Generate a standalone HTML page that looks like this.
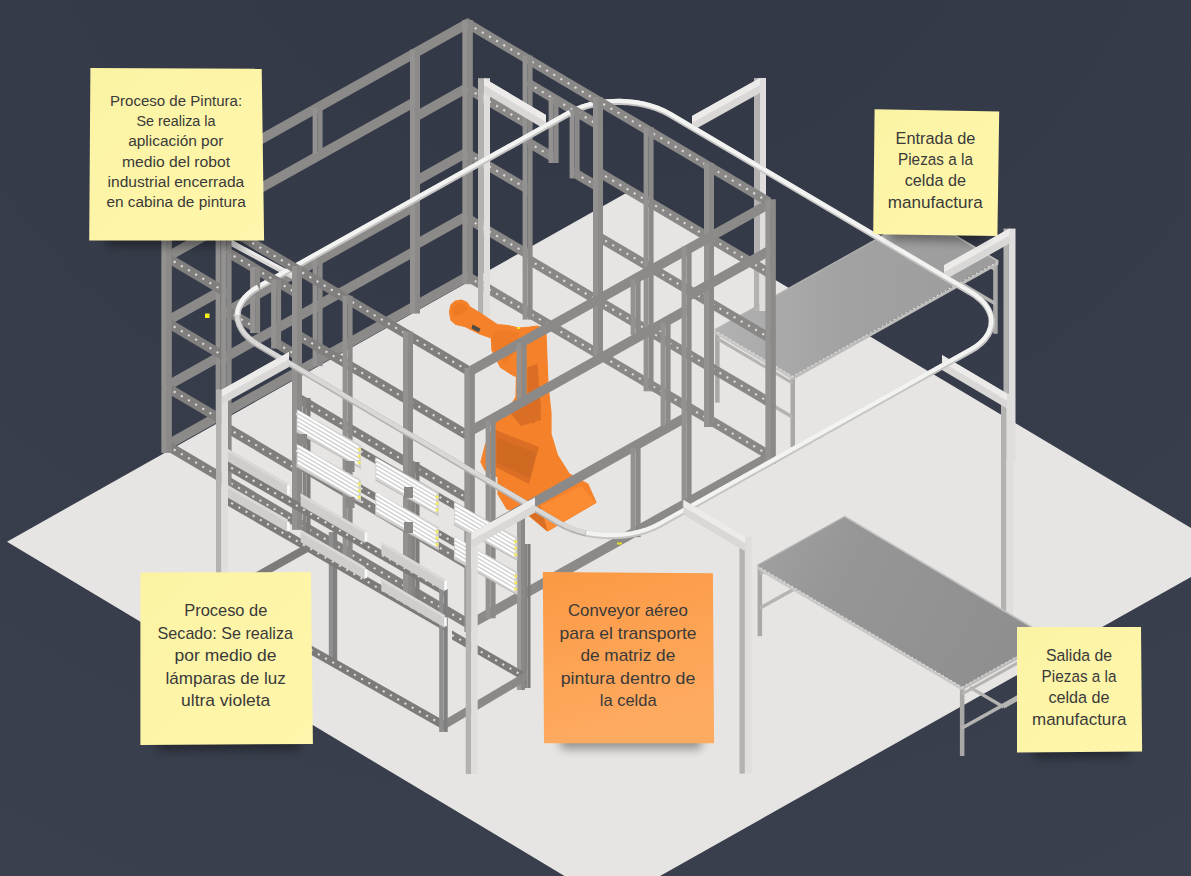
<!DOCTYPE html>
<html><head><meta charset="utf-8"><title>Celda de manufactura</title>
<style>
html,body{margin:0;padding:0;background:#363b49;}
body{width:1191px;height:876px;overflow:hidden;font-family:"Liberation Sans",sans-serif;}
svg{display:block}
</style></head><body>
<svg width="1191" height="876" viewBox="0 0 1191 876">
<defs>
<radialGradient id="bg" gradientUnits="userSpaceOnUse" cx="600" cy="-250" r="1250">
<stop offset="0" stop-color="#323745"/><stop offset="0.3" stop-color="#343947"/><stop offset="0.7" stop-color="#383d4b"/><stop offset="1" stop-color="#3a404e"/>
</radialGradient>
<linearGradient id="gy" x1="0" y1="0" x2="1" y2="1"><stop offset="0" stop-color="#fbf3a4"/><stop offset="1" stop-color="#fff6ab"/></linearGradient>
<linearGradient id="go" x1="0" y1="0" x2="0.3" y2="1"><stop offset="0" stop-color="#fb9943"/><stop offset="1" stop-color="#feab62"/></linearGradient>
<linearGradient id="gt" x1="0" y1="0" x2="1" y2="0"><stop offset="0" stop-color="#b3b2b2"/><stop offset="0.45" stop-color="#a2a2a2"/><stop offset="1" stop-color="#9c9c9c"/></linearGradient>
<linearGradient id="gt2" x1="0" y1="0" x2="1" y2="0.3"><stop offset="0" stop-color="#a2a2a2"/><stop offset="0.35" stop-color="#969696"/><stop offset="1" stop-color="#8f8f8f"/></linearGradient>
<filter id="blur" x="-20%" y="-50%" width="140%" height="200%"><feGaussianBlur stdDeviation="5"/></filter>
</defs>
<rect width="1191" height="876" fill="url(#bg)"/>
<polygon points="7,541.7 628,192 1191,528 1260,552 1191,577 660,876 564.5,876" fill="#e6e5e3"/>
<rect x="917.8" y="217.1" width="4.5" height="72" fill="#a9a8a7"/>
<rect x="993.2" y="261.8" width="4.5" height="72" fill="#a9a8a7"/>
<rect x="790.5" y="375.3" width="4.5" height="72" fill="#a9a8a7"/>
<rect x="715.1" y="330.6" width="4.5" height="72" fill="#a9a8a7"/>
<line x1="920" y1="259.1" x2="995.4" y2="303.8" stroke="#b5b4b3" stroke-width="3.5"/>
<line x1="920" y1="225.1" x2="995.4" y2="269.8" stroke="#b5b4b3" stroke-width="3"/>
<line x1="717.3" y1="372.6" x2="792.7" y2="417.3" stroke="#b5b4b3" stroke-width="3.5"/>
<line x1="717.3" y1="338.6" x2="792.7" y2="383.3" stroke="#b5b4b3" stroke-width="3"/>
<polygon points="714.3,330 792.7,376.4 792.7,379.9 714.3,333.5" fill="#c9c8c7"/>
<polygon points="998.4,261.3 792.7,376.4 792.7,379.9 998.4,264.8" fill="#bdbcbb"/>
<polygon points="920,214.8 998.4,261.3 792.7,376.4 714.3,330" fill="url(#gt)"/>
<line x1="920" y1="214.8" x2="998.4" y2="261.3" stroke="#c2c1c0" stroke-width="1.6"/>
<line x1="920" y1="214.8" x2="714.3" y2="330" stroke="#b4b3b2" stroke-width="1.2"/>
<polyline points="714.3,330 792.7,376.4 998.4,261.3" fill="none" stroke="#e4e3e2" stroke-width="1.3" stroke-dasharray="1.3 3.2"/>
<rect x="754" y="78" width="5.4" height="233" fill="#b3b2b1"/>
<rect x="759.4" y="78" width="6.6" height="233" fill="#dfdedd"/>
<polygon points="760,78 692,116.1 692,131.1 760,93" fill="#d9d8d7"/>
<polygon points="760,78 692,116.1 692,123.1 760,85" fill="#ecebea"/>
<rect x="1003.5" y="228.6" width="5.4" height="233" fill="#b3b2b1"/>
<rect x="1008.9" y="228.6" width="6.6" height="233" fill="#dfdedd"/>
<polygon points="1009.5,228.6 944,265.3 944,280.3 1009.5,243.6" fill="#d9d8d7"/>
<polygon points="1009.5,228.6 944,265.3 944,272.3 1009.5,235.6" fill="#ecebea"/>
<path d="M570 113 L575.9 110.1 L582.4 107.5 L589.3 105.4 L596.6 103.8 L604.3 102.6 L612.1 102 L620 101.9 L627.9 102.3 L635.7 103.1 L643.4 104.5 L650.7 106.4 L657.6 108.7 L664.1 111.5 L670 114.6 L971 292.8 L976.3 296.3 L980.9 300.1 L984.7 304.1 L987.7 308.4 L989.9 312.8 L991.3 317.4 L991.7 321.9 L991.3 326.5 L989.9 331" fill="none" stroke="#c6c5c4" stroke-width="6.1" stroke-linejoin="round" stroke-linecap="butt"/>
<path d="M569.7 112 L575.6 109.1 L582.1 106.5 L589 104.4 L596.3 102.8 L604 101.6 L611.8 101 L619.7 100.9 L627.6 101.3 L635.4 102.1 L643.1 103.5 L650.4 105.4 L657.3 107.7 L663.8 110.5 L669.7 113.6 L970.7 291.8 L976 295.3 L980.6 299.1 L984.4 303.1 L987.4 307.4 L989.6 311.8 L991 316.4 L991.4 320.9 L991 325.5 L989.6 330" fill="none" stroke="#f3f3f2" stroke-width="4.2" stroke-linejoin="round" stroke-linecap="butt"/>
<polygon points="467.6,18.1 166.6,186.7 166.6,197.7 467.6,29.1" fill="#8b8a89"/>
<polygon points="467.6,271.1 166.6,439.7 166.6,450.7 467.6,282.1" fill="#8b8a89"/>
<polygon points="467.6,82.1 415,111.6 415,122.6 467.6,93.1" fill="#8b8a89"/>
<polygon points="467.6,146.6 415,176.1 415,187.1 467.6,157.6" fill="#8b8a89"/>
<polygon points="467.6,210.1 415,239.6 415,250.6 467.6,221.1" fill="#8b8a89"/>
<polygon points="415,96.2 220.6,205 220.6,216 415,107.2" fill="#8b8a89"/>
<polygon points="415,200.6 220.6,309.4 220.6,320.4 415,211.6" fill="#8b8a89"/>
<polygon points="415,245.6 220.6,354.4 220.6,365.4 415,256.6" fill="#8b8a89"/>
<polygon points="220.6,221.4 166.6,251.7 166.6,262.7 220.6,232.4" fill="#8b8a89"/>
<polygon points="220.6,285.4 166.6,315.7 166.6,326.7 220.6,296.4" fill="#8b8a89"/>
<polygon points="220.6,350.4 166.6,380.7 166.6,391.7 220.6,361.4" fill="#8b8a89"/>
<rect x="312.6" y="108.1" width="5" height="46" fill="#939291"/>
<rect x="317.6" y="108.1" width="5" height="46" fill="#8b8a89"/>
<rect x="312.6" y="258.1" width="5" height="108" fill="#939291"/>
<rect x="317.6" y="258.1" width="5" height="108" fill="#8b8a89"/>
<rect x="462.6" y="20.1" width="5" height="264" fill="#939291"/>
<rect x="467.6" y="20.1" width="5" height="264" fill="#8b8a89"/>
<rect x="410" y="49.6" width="5" height="264" fill="#939291"/>
<rect x="415" y="49.6" width="5" height="264" fill="#8b8a89"/>
<rect x="215.6" y="158.4" width="5" height="264" fill="#939291"/>
<rect x="220.6" y="158.4" width="5" height="264" fill="#8b8a89"/>
<rect x="161.6" y="188.7" width="5" height="264" fill="#939291"/>
<rect x="166.6" y="188.7" width="5" height="264" fill="#8b8a89"/>
<polygon points="467.6,18.1 770.6,197.5 770.6,208.5 467.6,29.1" fill="#898887"/>
<line x1="467.6" y1="23.6" x2="770.6" y2="203" stroke="#dcdbda" stroke-width="2.1" stroke-dasharray="2.1 6.2" stroke-linecap="butt"/>
<polygon points="467.6,271.1 770.6,450.5 770.6,461.5 467.6,282.1" fill="#898887"/>
<line x1="467.6" y1="276.6" x2="770.6" y2="456" stroke="#dcdbda" stroke-width="2.1" stroke-dasharray="2.1 6.2" stroke-linecap="butt"/>
<polygon points="467.6,83.1 527.6,118.6 527.6,129.6 467.6,94.1" fill="#898887"/>
<line x1="467.6" y1="88.6" x2="527.6" y2="124.1" stroke="#dcdbda" stroke-width="2.1" stroke-dasharray="2.1 6.2" stroke-linecap="butt"/>
<polygon points="467.6,148.1 527.6,183.6 527.6,194.6 467.6,159.1" fill="#898887"/>
<line x1="467.6" y1="153.6" x2="527.6" y2="189.1" stroke="#dcdbda" stroke-width="2.1" stroke-dasharray="2.1 6.2" stroke-linecap="butt"/>
<polygon points="467.6,213.1 527.6,248.6 527.6,259.6 467.6,224.1" fill="#898887"/>
<line x1="467.6" y1="218.6" x2="527.6" y2="254.1" stroke="#dcdbda" stroke-width="2.1" stroke-dasharray="2.1 6.2" stroke-linecap="butt"/>
<polygon points="527.6,77.6 598,119.3 598,130.3 527.6,88.6" fill="#898887"/>
<line x1="527.6" y1="83.1" x2="598" y2="124.8" stroke="#dcdbda" stroke-width="2.1" stroke-dasharray="2.1 6.2" stroke-linecap="butt"/>
<polygon points="527.6,136.6 553.6,152 553.6,163 527.6,147.6" fill="#898887"/>
<line x1="527.6" y1="142.1" x2="553.6" y2="157.5" stroke="#dcdbda" stroke-width="2.1" stroke-dasharray="2.1 6.2" stroke-linecap="butt"/>
<polygon points="574.6,167.4 598,181.3 598,192.3 574.6,178.4" fill="#898887"/>
<line x1="574.6" y1="172.9" x2="598" y2="186.8" stroke="#dcdbda" stroke-width="2.1" stroke-dasharray="2.1 6.2" stroke-linecap="butt"/>
<rect x="548.6" y="97" width="5" height="66" fill="#939291"/>
<rect x="553.6" y="97" width="5" height="66" fill="#8b8a89"/>
<rect x="569.6" y="109.4" width="5" height="69" fill="#939291"/>
<rect x="574.6" y="109.4" width="5" height="69" fill="#8b8a89"/>
<polygon points="527.6,253.6 598,295.3 598,306.3 527.6,264.6" fill="#898887"/>
<line x1="527.6" y1="259.1" x2="598" y2="300.8" stroke="#dcdbda" stroke-width="2.1" stroke-dasharray="2.1 6.2" stroke-linecap="butt"/>
<polygon points="598,166.3 770.6,268.5 770.6,279.5 598,177.3" fill="#898887"/>
<line x1="598" y1="171.8" x2="770.6" y2="274" stroke="#dcdbda" stroke-width="2.1" stroke-dasharray="2.1 6.2" stroke-linecap="butt"/>
<polygon points="598,230.9 770.6,333.1 770.6,344.1 598,241.9" fill="#898887"/>
<line x1="598" y1="236.4" x2="770.6" y2="338.6" stroke="#dcdbda" stroke-width="2.1" stroke-dasharray="2.1 6.2" stroke-linecap="butt"/>
<polygon points="598,295.3 770.6,397.5 770.6,408.5 598,306.3" fill="#898887"/>
<line x1="598" y1="300.8" x2="770.6" y2="403" stroke="#dcdbda" stroke-width="2.1" stroke-dasharray="2.1 6.2" stroke-linecap="butt"/>
<rect x="462.6" y="20.1" width="5" height="264" fill="#939291"/>
<rect x="467.6" y="20.1" width="5" height="264" fill="#8b8a89"/>
<rect x="522.6" y="55.6" width="5" height="264" fill="#939291"/>
<rect x="527.6" y="55.6" width="5" height="264" fill="#8b8a89"/>
<rect x="593" y="97.3" width="5" height="264" fill="#939291"/>
<rect x="598" y="97.3" width="5" height="264" fill="#8b8a89"/>
<rect x="643.6" y="127.3" width="5" height="264" fill="#939291"/>
<rect x="648.6" y="127.3" width="5" height="264" fill="#8b8a89"/>
<rect x="704" y="163" width="5" height="264" fill="#939291"/>
<rect x="709" y="163" width="5" height="264" fill="#8b8a89"/>
<rect x="765.6" y="199.5" width="5" height="264" fill="#939291"/>
<rect x="770.6" y="199.5" width="5" height="264" fill="#8b8a89"/>
<rect x="478" y="78.2" width="5.4" height="238" fill="#b3b2b1"/>
<rect x="483.4" y="78.2" width="6.6" height="238" fill="#dfdedd"/>
<polygon points="484,78.2 546,114.9 546,129.9 484,93.2" fill="#d9d8d7"/>
<polygon points="484,78.2 546,114.9 546,121.9 484,85.2" fill="#ecebea"/>
<polygon points="449.5,312 451,305 455.5,301 461.5,300 467,302.5 470,307 483,315 497,324.5 508,325.5 519,328 530,327 537.5,326 543,329 546,334 547,360 548,385 551,413 551,434 557.5,455.4 569.3,474 587.8,484 596,502.4 547.5,531 527.3,514 507,509 498,494 498,477 485.3,470.5 481,462 485.3,445.3 495.5,422 505.6,414 516,397 516.5,376.5 514,375.7 500.5,367.3 492,350.5 491.3,338 480,334 465,326.5 456,324.5 451,320" fill="#f5822a" stroke="#f5822a" stroke-width="1.2" stroke-linejoin="round"/>
<polygon points="527.4,367.3 537.5,364 540.8,407.6 533,425 527.4,390.8" fill="#d96e24"/>
<polygon points="495.4,430 539,447 529,484 495.4,467" fill="#d96e24"/>
<polygon points="497,438 536,453 530,478 497,463" fill="#d06a22"/>
<polygon points="507,409 540,399 541,420 521,426" fill="#d96e24"/>
<polygon points="491.5,338 498,330 519,332 516,350 505,365 495,352" fill="#ee7c26"/>
<polygon points="540.5,506 581,486 596,502.4 547.5,531" fill="#fb8c33"/>
<polygon points="527.3,514 540.5,506 547.5,531" fill="#d96e24"/>
<polygon points="452,309 458,303 465,304 468,309 461,315 454,316" fill="#ee7a24"/>
<polygon points="472.5,324.5 480.4,328.6 479,332.4 471.5,328.5" fill="#4d4b48"/>
<rect x="517" y="327" width="3" height="2" fill="#f2e21d"/>
<polygon points="229,238.5 293,273 293,279.5 229,245" fill="#d9d8d7"/>
<polygon points="229,238.5 293,273 293,276 229,241.5" fill="#ecebea"/>
<path d="M258.2 287.6 L570 113" fill="none" stroke="#c6c5c4" stroke-width="6.1" stroke-linejoin="round" stroke-linecap="butt"/>
<path d="M257.9 286.6 L569.7 112" fill="none" stroke="#f3f3f2" stroke-width="4.2" stroke-linejoin="round" stroke-linecap="butt"/>
<polygon points="166.6,186.7 469.6,366 469.6,377 166.6,197.7" fill="#807f7e"/>
<line x1="166.6" y1="192.2" x2="469.6" y2="371.5" stroke="#dcdbda" stroke-width="2.1" stroke-dasharray="2.1 6.2" stroke-linecap="butt"/>
<polygon points="166.6,439.7 469.6,619 469.6,630 166.6,450.7" fill="#807f7e"/>
<line x1="166.6" y1="445.2" x2="469.6" y2="624.5" stroke="#dcdbda" stroke-width="2.1" stroke-dasharray="2.1 6.2" stroke-linecap="butt"/>
<polygon points="166.6,251.7 226.6,287.2 226.6,298.2 166.6,262.7" fill="#807f7e"/>
<line x1="166.6" y1="257.2" x2="226.6" y2="292.7" stroke="#dcdbda" stroke-width="2.1" stroke-dasharray="2.1 6.2" stroke-linecap="butt"/>
<polygon points="166.6,316.7 226.6,352.2 226.6,363.2 166.6,327.7" fill="#807f7e"/>
<line x1="166.6" y1="322.2" x2="226.6" y2="357.7" stroke="#dcdbda" stroke-width="2.1" stroke-dasharray="2.1 6.2" stroke-linecap="butt"/>
<polygon points="166.6,381.7 226.6,417.2 226.6,428.2 166.6,392.7" fill="#807f7e"/>
<line x1="166.6" y1="387.2" x2="226.6" y2="422.7" stroke="#dcdbda" stroke-width="2.1" stroke-dasharray="2.1 6.2" stroke-linecap="butt"/>
<polygon points="226.6,246.2 297,287.9 297,298.9 226.6,257.2" fill="#807f7e"/>
<line x1="226.6" y1="251.7" x2="297" y2="293.4" stroke="#dcdbda" stroke-width="2.1" stroke-dasharray="2.1 6.2" stroke-linecap="butt"/>
<polygon points="226.6,305.2 255.1,322.1 255.1,333.1 226.6,316.2" fill="#807f7e"/>
<line x1="226.6" y1="310.7" x2="255.1" y2="327.6" stroke="#dcdbda" stroke-width="2.1" stroke-dasharray="2.1 6.2" stroke-linecap="butt"/>
<polygon points="276.1,337.5 297,349.9 297,360.9 276.1,348.5" fill="#807f7e"/>
<line x1="276.1" y1="343" x2="297" y2="355.4" stroke="#dcdbda" stroke-width="2.1" stroke-dasharray="2.1 6.2" stroke-linecap="butt"/>
<rect x="250.1" y="267.1" width="5" height="66" fill="#939291"/>
<rect x="255.1" y="267.1" width="5" height="66" fill="#8b8a89"/>
<rect x="271.1" y="279.5" width="5" height="69" fill="#939291"/>
<rect x="276.1" y="279.5" width="5" height="69" fill="#8b8a89"/>
<polygon points="226.6,422.2 297,463.9 297,474.9 226.6,433.2" fill="#807f7e"/>
<line x1="226.6" y1="427.7" x2="297" y2="469.4" stroke="#dcdbda" stroke-width="2.1" stroke-dasharray="2.1 6.2" stroke-linecap="butt"/>
<polygon points="297,328.9 469.6,431 469.6,442 297,339.9" fill="#807f7e"/>
<line x1="297" y1="334.4" x2="469.6" y2="436.5" stroke="#dcdbda" stroke-width="2.1" stroke-dasharray="2.1 6.2" stroke-linecap="butt"/>
<polygon points="297,391.9 469.6,494 469.6,505 297,402.9" fill="#807f7e"/>
<line x1="297" y1="397.4" x2="469.6" y2="499.5" stroke="#dcdbda" stroke-width="2.1" stroke-dasharray="2.1 6.2" stroke-linecap="butt"/>
<polygon points="297,457.9 469.6,560 469.6,571 297,468.9" fill="#807f7e"/>
<line x1="297" y1="463.4" x2="469.6" y2="565.5" stroke="#dcdbda" stroke-width="2.1" stroke-dasharray="2.1 6.2" stroke-linecap="butt"/>
<rect x="161.6" y="188.7" width="5" height="264" fill="#939291"/>
<rect x="166.6" y="188.7" width="5" height="264" fill="#8b8a89"/>
<rect x="221.6" y="224.2" width="5" height="264" fill="#939291"/>
<rect x="226.6" y="224.2" width="5" height="264" fill="#8b8a89"/>
<rect x="292" y="265.9" width="5" height="264" fill="#939291"/>
<rect x="297" y="265.9" width="5" height="264" fill="#8b8a89"/>
<rect x="342.6" y="295.8" width="5" height="264" fill="#939291"/>
<rect x="347.6" y="295.8" width="5" height="264" fill="#8b8a89"/>
<rect x="403" y="331.6" width="5" height="264" fill="#939291"/>
<rect x="408" y="331.6" width="5" height="264" fill="#8b8a89"/>
<rect x="464.6" y="368" width="5" height="264" fill="#939291"/>
<rect x="469.6" y="368" width="5" height="264" fill="#8b8a89"/>
<polygon points="770.6,197.5 469.6,366 469.6,377 770.6,208.5" fill="#8b8a89"/>
<polygon points="770.6,450.5 469.6,619 469.6,630 770.6,461.5" fill="#8b8a89"/>
<polygon points="770.6,244.5 686.6,291.5 686.6,302.5 770.6,255.5" fill="#8b8a89"/>
<polygon points="686.6,304.5 469.6,426 469.6,437 686.6,315.5" fill="#8b8a89"/>
<polygon points="686.6,411.5 469.6,533 469.6,544 686.6,422.5" fill="#8b8a89"/>
<rect x="630.6" y="279.1" width="5" height="56" fill="#939291"/>
<rect x="635.6" y="279.1" width="5" height="56" fill="#8b8a89"/>
<rect x="630.6" y="448.1" width="5" height="89" fill="#939291"/>
<rect x="635.6" y="448.1" width="5" height="89" fill="#8b8a89"/>
<rect x="660.6" y="322.3" width="5" height="104" fill="#939291"/>
<rect x="665.6" y="322.3" width="5" height="104" fill="#8b8a89"/>
<rect x="516.6" y="342.9" width="5" height="56" fill="#939291"/>
<rect x="521.6" y="342.9" width="5" height="56" fill="#8b8a89"/>
<rect x="485.6" y="420.3" width="5" height="198" fill="#939291"/>
<rect x="490.6" y="420.3" width="5" height="198" fill="#8b8a89"/>
<rect x="765.6" y="199.5" width="5" height="264" fill="#939291"/>
<rect x="770.6" y="199.5" width="5" height="264" fill="#8b8a89"/>
<rect x="681.6" y="246.5" width="5" height="264" fill="#939291"/>
<rect x="686.6" y="246.5" width="5" height="264" fill="#8b8a89"/>
<rect x="464.6" y="368" width="5" height="264" fill="#939291"/>
<rect x="469.6" y="368" width="5" height="264" fill="#8b8a89"/>
<polygon points="296,409.7 524,542 524,550 296,417.7" fill="#7c7b7a"/>
<line x1="296" y1="413.7" x2="524" y2="546" stroke="#dcdbda" stroke-width="2.1" stroke-dasharray="2.1 6.2" stroke-linecap="butt"/>
<polygon points="296,446.7 524,579 524,587 296,454.7" fill="#7c7b7a"/>
<line x1="296" y1="450.7" x2="524" y2="583" stroke="#dcdbda" stroke-width="2.1" stroke-dasharray="2.1 6.2" stroke-linecap="butt"/>
<rect x="302.5" y="398" width="4" height="151" fill="#858483"/>
<rect x="306.5" y="398" width="4" height="151" fill="#7d7c7b"/>
<rect x="411.5" y="462" width="4" height="145" fill="#858483"/>
<rect x="415.5" y="462" width="4" height="145" fill="#7d7c7b"/>
<rect x="517" y="518" width="4" height="172" fill="#9b9a99"/>
<rect x="521" y="518" width="4" height="172" fill="#8a8988"/>
<rect x="524.5" y="544" width="3" height="144" fill="#858483"/>
<rect x="527.5" y="544" width="3" height="144" fill="#7c7b7a"/>
<polygon points="452,630.5 527,673.7 527,682.7 452,639.5" fill="#7c7b7a"/>
<line x1="452" y1="635" x2="527" y2="678.2" stroke="#dcdbda" stroke-width="2.1" stroke-dasharray="2.1 6.2" stroke-linecap="butt"/>
<polygon points="296.6,409.2 361,445.3 361,468.3 296.6,432.2" fill="#d3d2d1"/>
<line x1="297.6" y1="411.4" x2="358.5" y2="447.5" stroke="#ffffff" stroke-width="2.1"/>
<line x1="297.6" y1="415.5" x2="358.5" y2="451.6" stroke="#ffffff" stroke-width="2.1"/>
<line x1="297.6" y1="419.6" x2="358.5" y2="455.7" stroke="#ffffff" stroke-width="2.1"/>
<line x1="297.6" y1="423.7" x2="358.5" y2="459.8" stroke="#ffffff" stroke-width="2.1"/>
<line x1="297.6" y1="427.8" x2="358.5" y2="463.9" stroke="#ffffff" stroke-width="2.1"/>
<rect x="357.8" y="448.3" width="2.8" height="2.8" fill="#f3e85e"/>
<rect x="357.8" y="454.8" width="2.8" height="2.8" fill="#f3e85e"/>
<rect x="357.8" y="461.3" width="2.8" height="2.8" fill="#f3e85e"/>
<line x1="296.6" y1="432.2" x2="361" y2="468.3" stroke="#b9b8b7" stroke-width="1"/>
<polygon points="296.6,443.7 361,479.8 361,502.8 296.6,466.7" fill="#d3d2d1"/>
<line x1="297.6" y1="445.9" x2="358.5" y2="482" stroke="#ffffff" stroke-width="2.1"/>
<line x1="297.6" y1="450" x2="358.5" y2="486.1" stroke="#ffffff" stroke-width="2.1"/>
<line x1="297.6" y1="454.1" x2="358.5" y2="490.2" stroke="#ffffff" stroke-width="2.1"/>
<line x1="297.6" y1="458.2" x2="358.5" y2="494.3" stroke="#ffffff" stroke-width="2.1"/>
<line x1="297.6" y1="462.3" x2="358.5" y2="498.4" stroke="#ffffff" stroke-width="2.1"/>
<rect x="357.8" y="482.8" width="2.8" height="2.8" fill="#f3e85e"/>
<rect x="357.8" y="489.3" width="2.8" height="2.8" fill="#f3e85e"/>
<rect x="357.8" y="495.8" width="2.8" height="2.8" fill="#f3e85e"/>
<line x1="296.6" y1="466.7" x2="361" y2="502.8" stroke="#b9b8b7" stroke-width="1"/>
<polygon points="375.3,457 438.8,492.6 438.8,515.6 375.3,480" fill="#d3d2d1"/>
<line x1="376.3" y1="459.2" x2="436.3" y2="494.8" stroke="#ffffff" stroke-width="2.1"/>
<line x1="376.3" y1="463.3" x2="436.3" y2="498.9" stroke="#ffffff" stroke-width="2.1"/>
<line x1="376.3" y1="467.4" x2="436.3" y2="503" stroke="#ffffff" stroke-width="2.1"/>
<line x1="376.3" y1="471.5" x2="436.3" y2="507.1" stroke="#ffffff" stroke-width="2.1"/>
<line x1="376.3" y1="475.6" x2="436.3" y2="511.2" stroke="#ffffff" stroke-width="2.1"/>
<rect x="435.6" y="495.6" width="2.8" height="2.8" fill="#f3e85e"/>
<rect x="435.6" y="502.1" width="2.8" height="2.8" fill="#f3e85e"/>
<rect x="435.6" y="508.6" width="2.8" height="2.8" fill="#f3e85e"/>
<line x1="375.3" y1="480" x2="438.8" y2="515.6" stroke="#b9b8b7" stroke-width="1"/>
<polygon points="375.3,491.5 438.8,527.1 438.8,550.1 375.3,514.5" fill="#d3d2d1"/>
<line x1="376.3" y1="493.7" x2="436.3" y2="529.3" stroke="#ffffff" stroke-width="2.1"/>
<line x1="376.3" y1="497.8" x2="436.3" y2="533.4" stroke="#ffffff" stroke-width="2.1"/>
<line x1="376.3" y1="501.9" x2="436.3" y2="537.5" stroke="#ffffff" stroke-width="2.1"/>
<line x1="376.3" y1="506" x2="436.3" y2="541.6" stroke="#ffffff" stroke-width="2.1"/>
<line x1="376.3" y1="510.1" x2="436.3" y2="545.7" stroke="#ffffff" stroke-width="2.1"/>
<rect x="435.6" y="530.1" width="2.8" height="2.8" fill="#f3e85e"/>
<rect x="435.6" y="536.6" width="2.8" height="2.8" fill="#f3e85e"/>
<rect x="435.6" y="543.1" width="2.8" height="2.8" fill="#f3e85e"/>
<line x1="375.3" y1="514.5" x2="438.8" y2="550.1" stroke="#b9b8b7" stroke-width="1"/>
<polygon points="454,501.8 517.4,537.3 517.4,560.3 454,524.8" fill="#d3d2d1"/>
<line x1="455" y1="504" x2="514.9" y2="539.5" stroke="#ffffff" stroke-width="2.1"/>
<line x1="455" y1="508.1" x2="514.9" y2="543.6" stroke="#ffffff" stroke-width="2.1"/>
<line x1="455" y1="512.2" x2="514.9" y2="547.7" stroke="#ffffff" stroke-width="2.1"/>
<line x1="455" y1="516.3" x2="514.9" y2="551.8" stroke="#ffffff" stroke-width="2.1"/>
<line x1="455" y1="520.4" x2="514.9" y2="555.9" stroke="#ffffff" stroke-width="2.1"/>
<rect x="514.2" y="540.3" width="2.8" height="2.8" fill="#f3e85e"/>
<rect x="514.2" y="546.8" width="2.8" height="2.8" fill="#f3e85e"/>
<rect x="514.2" y="553.3" width="2.8" height="2.8" fill="#f3e85e"/>
<line x1="454" y1="524.8" x2="517.4" y2="560.3" stroke="#b9b8b7" stroke-width="1"/>
<polygon points="454,536.3 517.4,571.8 517.4,594.8 454,559.3" fill="#d3d2d1"/>
<line x1="455" y1="538.5" x2="514.9" y2="574" stroke="#ffffff" stroke-width="2.1"/>
<line x1="455" y1="542.6" x2="514.9" y2="578.1" stroke="#ffffff" stroke-width="2.1"/>
<line x1="455" y1="546.7" x2="514.9" y2="582.2" stroke="#ffffff" stroke-width="2.1"/>
<line x1="455" y1="550.8" x2="514.9" y2="586.3" stroke="#ffffff" stroke-width="2.1"/>
<line x1="455" y1="554.9" x2="514.9" y2="590.4" stroke="#ffffff" stroke-width="2.1"/>
<rect x="514.2" y="574.8" width="2.8" height="2.8" fill="#f3e85e"/>
<rect x="514.2" y="581.3" width="2.8" height="2.8" fill="#f3e85e"/>
<rect x="514.2" y="587.8" width="2.8" height="2.8" fill="#f3e85e"/>
<line x1="454" y1="559.3" x2="517.4" y2="594.8" stroke="#b9b8b7" stroke-width="1"/>
<rect x="298" y="434" width="9" height="11" fill="#8a8988"/>
<rect x="345.5" y="461" width="9" height="11" fill="#8a8988"/>
<rect x="404" y="487" width="9" height="11" fill="#8a8988"/>
<rect x="404" y="522" width="9" height="11" fill="#8a8988"/>
<rect x="345.5" y="497" width="9" height="11" fill="#8a8988"/>
<rect x="1001" y="393.6" width="5.4" height="233" fill="#b3b2b1"/>
<rect x="1006.4" y="393.6" width="6.6" height="233" fill="#dfdedd"/>
<polygon points="1007,393.6 942,355.1 942,370.1 1007,408.6" fill="#d9d8d7"/>
<polygon points="1007,393.6 942,355.1 942,362.1 1007,400.6" fill="#ecebea"/>
<path d="M991.7 321.9 L991.3 326.5 L989.9 331 L987.7 335.3 L984.7 339.5 L980.9 343.4 L976.3 347.1 L971 350.4 L659.2 525 L653.3 527.9 L646.8 530.5 L639.9 532.6 L632.6 534.2 L624.9 535.4 L617.1 536 L609.2 536.1 L601.3 535.7 L593.5 534.9 L585.8 533.5 L578.5 531.6" fill="none" stroke="#c6c5c4" stroke-width="6.1" stroke-linejoin="round" stroke-linecap="butt"/>
<path d="M991.4 320.9 L991 325.5 L989.6 330 L987.4 334.3 L984.4 338.5 L980.6 342.4 L976 346.1 L970.7 349.4 L658.9 524 L653 526.9 L646.5 529.5 L639.6 531.6 L632.3 533.2 L624.6 534.4 L616.8 535 L608.9 535.1 L601 534.7 L593.2 533.9 L585.5 532.5 L578.2 530.6" fill="none" stroke="#f3f3f2" stroke-width="4.2" stroke-linejoin="round" stroke-linecap="butt"/>
<path d="M585.8 533.5 L578.5 531.6 L571.6 529.3 L565.1 526.5 L559.2 523.4 L258.2 345.2 L252.9 341.7 L248.3 337.9 L244.5 333.9 L241.5 329.6 L239.3 325.2 L237.9 320.6 L237.5 316.1 L237.9 311.5" fill="none" stroke="#b3b2b1" stroke-width="6.1" stroke-linejoin="round" stroke-linecap="butt"/>
<path d="M585.5 532.5 L578.2 530.6 L571.3 528.3 L564.8 525.5 L558.9 522.4 L257.9 344.2 L252.6 340.7 L248 336.9 L244.2 332.9 L241.2 328.6 L239 324.2 L237.6 319.6 L237.2 315.1 L237.6 310.5" fill="none" stroke="#d9d8d7" stroke-width="4.2" stroke-linejoin="round" stroke-linecap="butt"/>
<path d="M237.5 316.1 L237.9 311.5 L239.3 307 L241.5 302.7 L244.5 298.5 L248.3 294.6 L252.9 290.9 L258.2 287.6" fill="none" stroke="#c6c5c4" stroke-width="6.1" stroke-linejoin="round" stroke-linecap="butt"/>
<path d="M237.2 315.1 L237.6 310.5 L239 306 L241.2 301.7 L244.2 297.5 L248 293.6 L252.6 289.9 L257.9 286.6" fill="none" stroke="#f3f3f2" stroke-width="4.2" stroke-linejoin="round" stroke-linecap="butt"/>
<rect x="842.5" y="518.7" width="4.5" height="70" fill="#a9a8a7"/>
<rect x="1044.8" y="638.5" width="4.5" height="70" fill="#a9a8a7"/>
<rect x="959.9" y="686" width="4.5" height="70" fill="#a9a8a7"/>
<rect x="757.6" y="566.2" width="4.5" height="70" fill="#a9a8a7"/>
<line x1="844.7" y1="560.7" x2="759.8" y2="608.2" stroke="#b5b4b3" stroke-width="3.5"/>
<line x1="844.7" y1="526.7" x2="759.8" y2="574.2" stroke="#b5b4b3" stroke-width="3"/>
<line x1="1047" y1="680.5" x2="962.1" y2="728" stroke="#b5b4b3" stroke-width="3.5"/>
<line x1="1047" y1="646.5" x2="962.1" y2="694" stroke="#b5b4b3" stroke-width="3"/>
<polygon points="756.8,565.6 962.1,687.1 962.1,690.6 756.8,569.1" fill="#c9c8c7"/>
<polygon points="1050,637.9 962.1,687.1 962.1,690.6 1050,641.4" fill="#bdbcbb"/>
<polygon points="844.7,516.4 1050,637.9 962.1,687.1 756.8,565.6" fill="url(#gt2)"/>
<line x1="844.7" y1="516.4" x2="1050" y2="637.9" stroke="#c2c1c0" stroke-width="1.6"/>
<line x1="844.7" y1="516.4" x2="756.8" y2="565.6" stroke="#b4b3b2" stroke-width="1.2"/>
<polyline points="756.8,565.6 962.1,687.1 1050,637.9" fill="none" stroke="#e4e3e2" stroke-width="1.3" stroke-dasharray="1.3 3.2"/>
<line x1="970" y1="687.4" x2="1003.6" y2="707" stroke="#b5b4b3" stroke-width="3.2"/>
<line x1="1003.6" y1="707" x2="1018" y2="699" stroke="#b5b4b3" stroke-width="3.2"/>
<polygon points="311.6,541 225.6,589 225.6,598 311.6,550" fill="#7c7b7a"/>
<polygon points="443.6,720.5 527,671 527,680.5 443.6,730" fill="#8a8988"/>
<rect x="328.8" y="532" width="4.2" height="128" fill="#8f8e8d"/>
<rect x="333" y="532" width="4.2" height="128" fill="#818080"/>
<polygon points="224,458.9 443.8,585.9 443.8,595.4 224,468.4" fill="#7c7b7a"/>
<line x1="224" y1="463.6" x2="443.8" y2="590.7" stroke="#dcdbda" stroke-width="2.1" stroke-dasharray="2.1 6.2" stroke-linecap="butt"/>
<polygon points="224,494.1 443.8,621.1 443.8,630.6 224,503.6" fill="#7c7b7a"/>
<line x1="224" y1="498.8" x2="443.8" y2="625.9" stroke="#dcdbda" stroke-width="2.1" stroke-dasharray="2.1 6.2" stroke-linecap="butt"/>
<polygon points="224,596 443.8,720.6 443.8,730.1 224,605.5" fill="#7c7b7a"/>
<line x1="224" y1="600.7" x2="443.8" y2="725.4" stroke="#dcdbda" stroke-width="2.1" stroke-dasharray="2.1 6.2" stroke-linecap="butt"/>
<rect x="439.2" y="589" width="4.2" height="143" fill="#8f8e8d"/>
<rect x="443.5" y="589" width="4.2" height="143" fill="#818080"/>
<polygon points="228,449 287.6,483.3 287.6,495.8 228,461.5" fill="#cfcecd"/>
<polygon points="228,449 287.6,483.3 287.6,486.3 228,452" fill="#dad9d8"/>
<rect x="287.1" y="485.3" width="2.5" height="9" fill="#fbfbfb"/>
<polygon points="228,485.3 287.6,519.6 287.6,532.1 228,497.8" fill="#cfcecd"/>
<polygon points="228,485.3 287.6,519.6 287.6,522.6 228,488.3" fill="#dad9d8"/>
<rect x="287.1" y="521.6" width="2.5" height="9" fill="#fbfbfb"/>
<polygon points="300.7,493.4 365.2,530.7 365.2,543.2 300.7,505.9" fill="#cfcecd"/>
<polygon points="300.7,493.4 365.2,530.7 365.2,533.7 300.7,496.4" fill="#dad9d8"/>
<rect x="364.7" y="532.7" width="2.5" height="9" fill="#fbfbfb"/>
<polygon points="300.7,529.7 365.2,567 365.2,579.5 300.7,542.2" fill="#cfcecd"/>
<polygon points="300.7,529.7 365.2,567 365.2,570 300.7,532.7" fill="#dad9d8"/>
<rect x="364.7" y="569" width="2.5" height="9" fill="#fbfbfb"/>
<polygon points="381.3,541.8 444.8,579 444.8,591.5 381.3,554.3" fill="#cfcecd"/>
<polygon points="381.3,541.8 444.8,579 444.8,582 381.3,544.8" fill="#dad9d8"/>
<rect x="444.3" y="581" width="2.5" height="9" fill="#fbfbfb"/>
<polygon points="381.3,578.1 444.8,615.3 444.8,627.8 381.3,590.6" fill="#cfcecd"/>
<polygon points="381.3,578.1 444.8,615.3 444.8,618.3 381.3,581.1" fill="#dad9d8"/>
<rect x="444.3" y="617.3" width="2.5" height="9" fill="#fbfbfb"/>
<rect x="739.5" y="536.6" width="5.4" height="237" fill="#b3b2b1"/>
<rect x="744.9" y="536.6" width="6.6" height="237" fill="#dfdedd"/>
<polygon points="745.5,536.6 683.5,499.9 683.5,514.9 745.5,551.6" fill="#d9d8d7"/>
<polygon points="745.5,536.6 683.5,499.9 683.5,506.9 745.5,543.6" fill="#ecebea"/>
<rect x="465.7" y="533" width="5.4" height="241" fill="#b3b2b1"/>
<rect x="471.1" y="533" width="6.6" height="241" fill="#dfdedd"/>
<polygon points="471.7,533 535,497.6 535,512.6 471.7,548" fill="#d9d8d7"/>
<polygon points="471.7,533 535,497.6 535,504.6 471.7,540" fill="#ecebea"/>
<rect x="216" y="389.5" width="5.4" height="233" fill="#b3b2b1"/>
<rect x="221.4" y="389.5" width="6.6" height="233" fill="#dfdedd"/>
<polygon points="222,389.5 289,351.9 289,366.9 222,404.5" fill="#d9d8d7"/>
<polygon points="222,389.5 289,351.9 289,358.9 222,396.5" fill="#ecebea"/>
<rect x="205" y="313.5" width="4.5" height="4.5" fill="#f4ee1a"/>
<rect x="617" y="542.5" width="5" height="2" fill="#e8e020"/>
<g font-family="Liberation Sans, sans-serif" fill="#3a3a3a">
<polygon points="103.2,228.5 254.1,228.5 250.1,246.5 107.2,246.5" fill="#000" opacity="0.35" filter="url(#blur)"/>
<polygon points="90.4,68 261.7,68.7 264.1,240.5 89.2,240.5" fill="url(#gy)"/>
<text x="110" y="105.6" textLength="132.1" lengthAdjust="spacingAndGlyphs" font-size="15.2">Proceso de Pintura:</text>
<text x="136.4" y="125.7" textLength="79.1" lengthAdjust="spacingAndGlyphs" font-size="15.2">Se realiza la</text>
<text x="128.2" y="145.9" textLength="95.2" lengthAdjust="spacingAndGlyphs" font-size="15.2">aplicación por</text>
<text x="122" y="166.5" textLength="108.1" lengthAdjust="spacingAndGlyphs" font-size="15.2">medio del robot</text>
<text x="107.6" y="186.6" textLength="136.6" lengthAdjust="spacingAndGlyphs" font-size="15.2">industrial encerrada</text>
<text x="106.4" y="207" textLength="139.3" lengthAdjust="spacingAndGlyphs" font-size="15.2">en cabina de pintura</text>
<polygon points="154.4,733 302.9,732 298.9,750 158.4,751" fill="#000" opacity="0.35" filter="url(#blur)"/>
<polygon points="140.4,572.5 311,572 312.9,744 140.4,745" fill="url(#gy)"/>
<text x="184.2" y="615.6" textLength="83.2" lengthAdjust="spacingAndGlyphs" font-size="16.6">Proceso de</text>
<text x="157.6" y="638.6" textLength="135.4" lengthAdjust="spacingAndGlyphs" font-size="16.6">Secado: Se realiza</text>
<text x="174.6" y="661.4" textLength="101.9" lengthAdjust="spacingAndGlyphs" font-size="16.6">por medio de</text>
<text x="165.5" y="683.9" textLength="120.3" lengthAdjust="spacingAndGlyphs" font-size="16.6">lámparas de luz</text>
<text x="181.1" y="706.4" textLength="89.2" lengthAdjust="spacingAndGlyphs" font-size="16.6">ultra violeta</text>
<polygon points="558,731.3 704.1,731.3 700.1,749.3 562,749.3" fill="#000" opacity="0.35" filter="url(#blur)"/>
<polygon points="542.8,572 712.9,573.2 714.1,743.3 544,743.3" fill="url(#go)"/>
<text x="567.9" y="615.6" textLength="119.9" lengthAdjust="spacingAndGlyphs" font-size="16.6">Conveyor aéreo</text>
<text x="559.5" y="638.6" textLength="137.1" lengthAdjust="spacingAndGlyphs" font-size="16.6">para el transporte</text>
<text x="580.4" y="661.4" textLength="94.9" lengthAdjust="spacingAndGlyphs" font-size="16.6">de matriz de</text>
<text x="560.7" y="683.9" textLength="134.7" lengthAdjust="spacingAndGlyphs" font-size="16.6">pintura dentro de</text>
<text x="599.8" y="706.4" textLength="56.8" lengthAdjust="spacingAndGlyphs" font-size="16.6">la celda</text>
<polygon points="887.2,222.3 987.4,224.1 983.4,242.1 891.2,240.3" fill="#000" opacity="0.35" filter="url(#blur)"/>
<polygon points="874.6,109.2 999.2,111.6 997.4,236.1 873.2,234.3" fill="url(#gy)"/>
<text x="895.6" y="143.9" textLength="79.8" lengthAdjust="spacingAndGlyphs" font-size="16.8">Entrada de</text>
<text x="898" y="164.9" textLength="74.9" lengthAdjust="spacingAndGlyphs" font-size="16.8">Piezas a la</text>
<text x="904.7" y="186.3" textLength="61.2" lengthAdjust="spacingAndGlyphs" font-size="16.8">celda de</text>
<text x="887.8" y="208.4" textLength="94.9" lengthAdjust="spacingAndGlyphs" font-size="16.8">manufactura</text>
<polygon points="1031,740.5 1132.1,739.6 1128.1,757.6 1035,758.5" fill="#000" opacity="0.35" filter="url(#blur)"/>
<polygon points="1017,627 1141,627 1142.1,751.6 1017,752.5" fill="url(#gy)"/>
<text x="1046" y="660.6" textLength="66" lengthAdjust="spacingAndGlyphs" font-size="16.8">Salida de</text>
<text x="1041.6" y="682.1" textLength="74.9" lengthAdjust="spacingAndGlyphs" font-size="16.8">Piezas a la</text>
<text x="1048.4" y="703.2" textLength="61.2" lengthAdjust="spacingAndGlyphs" font-size="16.8">celda de</text>
<text x="1032" y="725.1" textLength="94.4" lengthAdjust="spacingAndGlyphs" font-size="16.8">manufactura</text>
</g>
</svg>
</body></html>
